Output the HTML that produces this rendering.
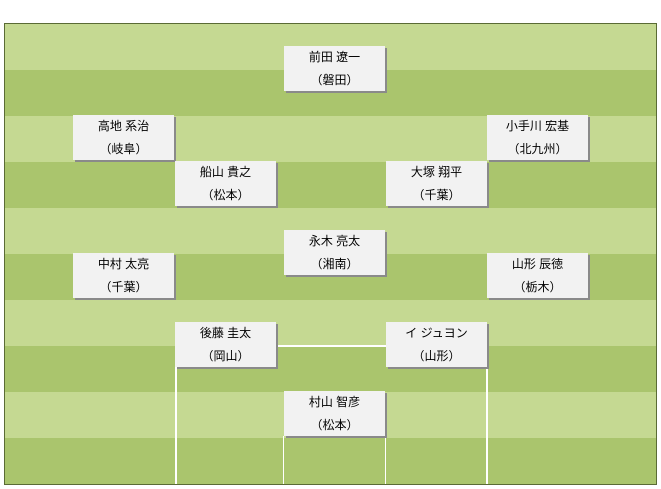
<!DOCTYPE html>
<html><head><meta charset="utf-8"><style>
body{margin:0;width:661px;height:489px;background:#fff;position:relative;overflow:hidden;font-family:"Liberation Sans","Noto Sans CJK JP",sans-serif;}
#f{position:absolute;left:4px;top:23px;width:651px;height:460px;border:1px solid #5a6b35;
background:repeating-linear-gradient(to bottom,#c5d992 0,#c5d992 46px,#aac56d 46px,#aac56d 92px);}
.l{position:absolute;background:#fff;}
.b{position:absolute;width:101px;height:45px;background:#f2f2f2;box-shadow:2px 2px 0 #8a8a8a;font-size:12px;color:#000;text-align:center;line-height:23px;}
</style></head><body>
<div id="f"></div>
<div class="l" style="left:175px;top:345px;width:2px;height:139px"></div>
<div class="l" style="left:486px;top:345px;width:2px;height:139px"></div>
<div class="l" style="left:175px;top:345px;width:313px;height:2px"></div>
<div class="l" style="left:283px;top:436px;width:1px;height:48px"></div>
<div class="l" style="left:385px;top:436px;width:1px;height:48px"></div>
<div class="b" style="left:284px;top:46px">前田 遼一<br>（磐田）</div>
<div class="b" style="left:73px;top:115px">高地 系治<br>（岐阜）</div>
<div class="b" style="left:487px;top:115px">小手川 宏基<br>（北九州）</div>
<div class="b" style="left:175px;top:161px">船山 貴之<br>（松本）</div>
<div class="b" style="left:386px;top:161px">大塚 翔平<br>（千葉）</div>
<div class="b" style="left:284px;top:230px">永木 亮太<br>（湘南）</div>
<div class="b" style="left:73px;top:253px">中村 太亮<br>（千葉）</div>
<div class="b" style="left:487px;top:253px">山形 辰徳<br>（栃木）</div>
<div class="b" style="left:175px;top:322px">後藤 圭太<br>（岡山）</div>
<div class="b" style="left:386px;top:322px">イ ジュヨン<br>（山形）</div>
<div class="b" style="left:284px;top:391px">村山 智彦<br>（松本）</div>
</body></html>
